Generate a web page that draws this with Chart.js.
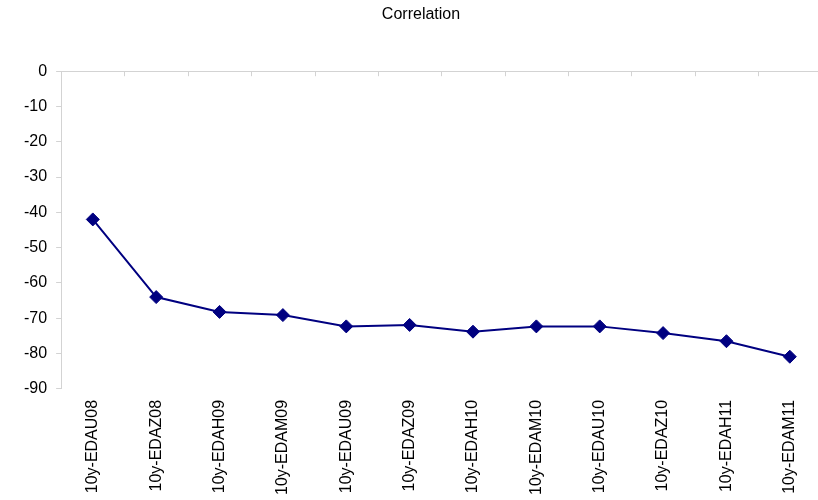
<!DOCTYPE html>
<html>
<head>
<meta charset="utf-8">
<script src="https://cdn.jsdelivr.net/npm/chart.js@4/dist/chart.umd.min.js"></script>
<style>
  html, body { margin: 0; padding: 0; background: #fff; overflow: hidden; }
  #wrap { position: relative; width: 829px; height: 498px; }
</style>
</head>
<body>
<div id="wrap"><canvas id="myChart"></canvas></div>
<script>
// data
const categories = ['10y-EDAU08', '10y-EDAZ08', '10y-EDAH09', '10y-EDAM09', '10y-EDAU09', '10y-EDAZ09',
                    '10y-EDAH10', '10y-EDAM10', '10y-EDAU10', '10y-EDAZ10', '10y-EDAH11', '10y-EDAM11'];
const correlation = [-42, -64, -68.2, -69.1, -72.3, -71.9, -73.8, -72.3, -72.3, -74.2, -76.5, -80.9];
const yTicks = [0, -10, -20, -30, -40, -50, -60, -70, -80, -90];

const axisGray = '#d3d3d3';

// short tick marks hanging down from the zero line, between categories
const topTicks = {
    id: 'topTicks',
    afterDatasetsDraw(chart) {
        const x = chart.scales.x, y = chart.scales.y;
        const y0 = y.getPixelForValue(0);
        const c = chart.ctx;
        c.save();
        c.strokeStyle = axisGray;
        c.lineWidth = 1;
        for (let i = 0; i <= categories.length; i++) {
            const px = Math.round(x.getPixelForValue(i - 0.5)) + 0.5;
            c.beginPath();
            c.moveTo(px, y0);
            c.lineTo(px, y0 + 5);
            c.stroke();
        }
        c.restore();
    }
};

const ctx = document.getElementById('myChart').getContext('2d');
const myChart = new Chart(ctx, {
    type: 'line',
    data: {
        labels: categories,
        datasets: [{
            label: 'Correlation',
            data: correlation,
            borderColor: '#000080',
            backgroundColor: '#000080',
            borderWidth: 2,
            pointStyle: 'rectRot',
            pointRadius: 6.5,
            pointBorderWidth: 1,
            tension: 0
        }]
    },
    options: {
        responsive: true,
        maintainAspectRatio: false,
        animation: false,
        layout: { padding: { left: 15, right: 2, top: 0, bottom: 0 } },
        plugins: {
            legend: { display: false },
            tooltip: { enabled: false },
            title: {
                display: true,
                text: 'Correlation',
                color: '#000',
                font: { family: 'Liberation Sans', size: 16, weight: 'normal' },
                padding: { top: 5, bottom: 47 }
            }
        },
        scales: {
            x: {
                offset: true,
                grid: { display: false },
                border: { display: false },
                ticks: {
                    color: '#000',
                    font: { family: 'Liberation Sans', size: 16 },
                    minRotation: 90,
                    maxRotation: 90,
                    padding: 3,
                    autoSkip: false
                }
            },
            y: {
                min: -90,
                max: 0,
                afterBuildTicks(scale) {
                    scale.ticks = yTicks.map(v => ({ value: v }));
                },
                grid: {
                    color: c => c.tick && c.tick.value === 0 ? axisGray : 'rgba(0,0,0,0)',
                    tickColor: axisGray,
                    tickLength: 5,
                    lineWidth: 1
                },
                border: { display: true, color: axisGray },
                ticks: {
                    color: '#000',
                    font: { family: 'Liberation Sans', size: 16 },
                    padding: 9
                }
            }
        }
    },
    plugins: [topTicks]
});
</script>
</body>
</html>
